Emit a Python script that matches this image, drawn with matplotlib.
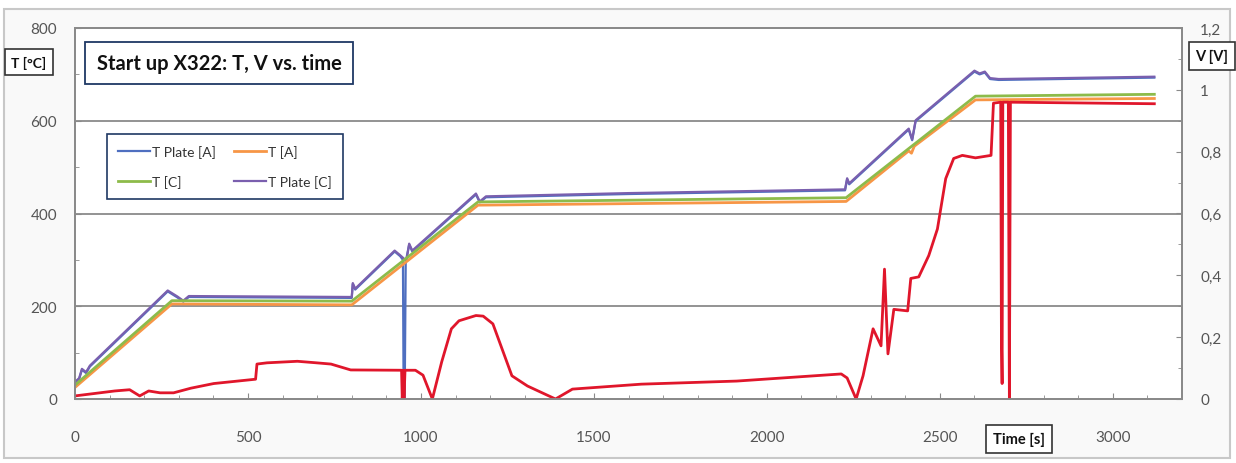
import matplotlib.pyplot as plt
from matplotlib.patches import Rectangle
from matplotlib.ticker import MultipleLocator, FuncFormatter

plt.rcParams['font.family'] = ['Lato', 'DejaVu Sans']

# T Plate [C] (purple) - time [s], temperature [°C]
plate_c_t = [0, 12, 20, 32, 43, 268, 296, 313, 329, 800, 803, 810, 924, 940, 958, 966, 975,
             1159, 1170, 1188, 1600, 2000, 2226, 2232, 2238, 2410, 2420, 2430, 2600, 2615,
             2630, 2645, 2670, 3120]
plate_c_T = [37, 45, 65, 58, 72, 234, 221, 212, 222, 220, 250, 238, 320, 310, 298, 335, 320,
             443, 426, 437, 444, 449, 452, 476, 465, 583, 560, 601, 708, 702,
             706, 692, 690, 695]

# T Plate [A] (blue) - mostly hidden below T Plate [C], drops out near 950 s
plate_a_t = [0, 12, 20, 32, 43, 268, 296, 313, 329, 800, 803, 810, 924, 940, 948, 950, 953,
             956, 966, 975, 1159, 1170, 1188, 1600, 2000, 2226, 2232, 2238, 2410, 2420,
             2430, 2600, 2615, 2630, 2645, 2670, 3120]
plate_a_T = [35, 43, 63, 56, 70, 232, 219, 210, 220, 218, 248, 236, 318, 308, 300, 0, 0,
             296, 333, 318, 441, 424, 435, 442, 447, 450, 474, 463, 581, 558,
             599, 706, 700, 704, 690, 688, 693]

# T [C] (green) and T [A] (orange)
tc_t = [0, 280, 800, 1165, 2229, 2603, 3120]
tc_T = [30, 212, 211, 425, 434, 653, 657]
ta_t = [0, 280, 800, 1165, 2229, 2410, 2418, 2426, 2603, 3120]
ta_T = [25, 205, 203, 418, 426, 535, 530, 545, 645, 648]

# V (red, right axis)
v_t = [0, 115, 158, 187, 213, 246, 285, 335, 401, 522, 526, 555, 643, 698, 740, 797,
       944, 946, 949, 951, 954, 984, 1006, 1033, 1060, 1088, 1110, 1159, 1180, 1208,
       1263, 1308, 1389, 1438, 1637, 1913, 2215, 2232, 2258, 2278, 2307, 2330, 2340,
       2350, 2367, 2407, 2416, 2439, 2468, 2493, 2517, 2540, 2565, 2603, 2648, 2655,
       2676, 2678, 2680, 2682, 2698, 2701, 2704, 3120]
v_V = [0.01, 0.026, 0.03, 0.01, 0.026, 0.02, 0.02, 0.035, 0.05, 0.064, 0.113, 0.117, 0.122, 0.117, 0.113, 0.094,
       0.093, 0.0, 0.093, 0.0, 0.093, 0.093, 0.077, 0.0, 0.12, 0.227, 0.253, 0.27, 0.268, 0.243,
       0.075, 0.042, 0.0, 0.032, 0.048, 0.058, 0.081, 0.068, 0.0, 0.075, 0.227, 0.172, 0.42,
       0.146, 0.29, 0.285, 0.39, 0.395, 0.464, 0.55, 0.713, 0.778, 0.788, 0.78, 0.788, 0.957,
       0.96, 0.2, 0.05, 0.96, 0.96, 0.0, 0.96, 0.955]

x_ticks = [0, 500, 1000, 1500, 2000, 2500, 3000]
title = 'Start up X322: T, V vs. time'

W, H = 1236, 464
fig = plt.figure(figsize=(W / 100, H / 100), dpi=100)
fig.patch.set_facecolor('white')

# chart area border
fig.patches.append(Rectangle((4 / W, 1 - 459 / H), 1226 / W, 449 / H, transform=fig.transFigure,
                             facecolor='#f9f9f9', edgecolor='#c8c8c8', lw=1.5, zorder=-10))

ax = fig.add_axes([75 / W, 1 - 400 / H, (1182 - 75) / W, (400 - 29) / H])
ax.set_facecolor('white')
ax.set_xlim(0, 3200)
ax.set_ylim(0, 800)
ax.set_xticks(x_ticks)
ax.xaxis.set_minor_locator(MultipleLocator(100))
ax.set_yticks([0, 200, 400, 600, 800])
ax.yaxis.set_minor_locator(MultipleLocator(100))
ax.grid(axis='y', color='#8a8a8a', lw=1.3)
for s in ax.spines.values():
    s.set_color('#8a8a8a')
    s.set_linewidth(1.3)
ax.tick_params(which='both', direction='in', color='#8a8a8a', labelcolor='#555555', labelsize=11)
ax.tick_params(axis='y', which='major', pad=13, length=4)
ax.tick_params(axis='x', which='major', pad=22, length=4)
ax.tick_params(which='minor', length=3)

l_pa, = ax.plot(plate_a_t, plate_a_T, color='#4f6fc0', lw=1.6, label='T Plate [A]')
l_pc, = ax.plot(plate_c_t, plate_c_T, color='#7a5fae', lw=1.6, label='T Plate [C]')
l_ta, = ax.plot(ta_t, ta_T, color='#f79646', lw=2.0, label='T [A]')
l_tc, = ax.plot(tc_t, tc_T, color='#8dbb4a', lw=2.0, label='T [C]')

ax2 = ax.twinx()
ax2.set_ylim(0, 1.2)
ax2.set_yticks([0, 0.2, 0.4, 0.6, 0.8, 1.0, 1.2])
ax2.yaxis.set_minor_locator(MultipleLocator(0.1))
ax2.yaxis.set_major_formatter(FuncFormatter(lambda v, p: f'{v:g}'.replace('.', ',')))
for s in ax2.spines.values():
    s.set_color('#8a8a8a')
    s.set_linewidth(1.3)
ax2.tick_params(which='both', direction='in', color='#8a8a8a', labelcolor='#555555', labelsize=11)
ax2.tick_params(which='major', pad=13, length=4)
ax2.tick_params(which='minor', length=3)
ax2.plot(v_t, v_V, color='#e0162b', lw=2.0)

leg = ax2.legend(handles=[l_pa, l_tc, l_ta, l_pc], ncol=2, loc='upper left',
                 bbox_to_anchor=(100 / W, 1 - 128 / H), bbox_transform=fig.transFigure,
                 fontsize=10, frameon=True, fancybox=False, framealpha=1,
                 edgecolor='#1f3864', handlelength=2.3, handletextpad=0.15,
                 columnspacing=1.3, borderpad=0.8, labelspacing=1.2)
leg.get_frame().set_linewidth(1.2)
for txt in leg.get_texts():
    txt.set_color('#333333')

box = dict(boxstyle='square,pad=0.45', facecolor='white', edgecolor='#333333', lw=1.2)
fig.text(219 / W, 1 - 64 / H, title, ha='center', va='center', fontsize=14.5,
         fontweight='bold', color='#111111',
         bbox=dict(boxstyle='square,pad=0.55', facecolor='white', edgecolor='#1f3864', lw=1.3))
fig.text(29 / W, 1 - 63 / H, 'T [°C]', ha='center', va='center', fontsize=10,
         fontweight='bold', color='#111111', bbox=box)
fig.text(1212 / W, 1 - 57 / H, 'V [V]', ha='center', va='center', fontsize=10.5,
         fontweight='bold', color='#111111', bbox=box)
fig.text(1019 / W, 1 - 440 / H, 'Time [s]', ha='center', va='center', fontsize=10.5,
         fontweight='bold', color='#111111', bbox=box)

fig.savefig('out.png', dpi=100)
